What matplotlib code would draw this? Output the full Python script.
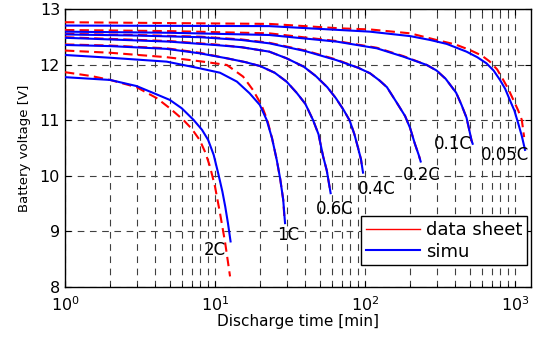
import matplotlib
matplotlib.use('Agg')
import matplotlib.pyplot as plt
from matplotlib.lines import Line2D
from matplotlib.ticker import LogLocator, NullFormatter

# discharge curves: time [min], voltage [V]
# 2C
t_2c_sim = [1, 2, 3, 4, 5, 6, 7.2, 8.2, 9, 9.8, 10.5, 11.2, 11.7, 12.2, 12.7]
v_2c_sim = [11.78, 11.73, 11.62, 11.48, 11.37, 11.22, 11.01, 10.83, 10.65, 10.38, 10.05, 9.72, 9.45, 9.15, 8.82]
t_2c_ds = [1, 1.5, 2, 3, 4.1, 5, 6.15, 7, 7.9, 8.6, 9.26, 10, 10.8, 11.7, 12.6]
v_2c_ds = [11.87, 11.80, 11.73, 11.60, 11.40, 11.22, 11.01, 10.85, 10.65, 10.43, 10.17, 9.81, 9.33, 8.79, 8.19]
# 1C
t_1c_sim = [1, 2, 4.76, 7.9, 10.8, 14, 17, 19.9, 22.1, 24, 25.8, 27.2, 28.5, 29.3]
v_1c_sim = [12.18, 12.13, 12.06, 11.94, 11.86, 11.70, 11.49, 11.28, 11.01, 10.68, 10.29, 9.95, 9.57, 9.15]
t_1c_ds = [1, 2, 4.76, 8.3, 12, 15.4, 17.9, 20.4, 22.3, 24, 25.8, 27.2, 28.5, 29.1]
v_1c_ds = [12.26, 12.22, 12.14, 12.06, 12.00, 11.79, 11.55, 11.28, 11.01, 10.68, 10.29, 9.95, 9.57, 9.20]
# 0.6C
t_06c_sim = [1, 2, 4.76, 7.9, 12, 16, 20, 25, 30, 35, 40, 45, 49, 52.6, 55.6, 59]
v_06c_sim = [12.36, 12.34, 12.29, 12.21, 12.12, 12.05, 11.98, 11.86, 11.70, 11.50, 11.30, 11.01, 10.75, 10.35, 10.10, 9.69]
t_06c_ds = [1, 2, 4.76, 7.9, 12, 16, 20, 25, 30, 35, 40, 45, 49, 52.6, 55.6, 58.5]
v_06c_ds = [12.37, 12.35, 12.30, 12.22, 12.12, 12.05, 11.98, 11.86, 11.70, 11.50, 11.30, 11.01, 10.75, 10.35, 10.10, 9.75]
# 0.4C
t_04c_sim = [1, 2, 5, 10, 15, 23, 30, 39, 47, 56, 64, 72, 79, 85, 90, 94, 97]
v_04c_sim = [12.49, 12.46, 12.42, 12.36, 12.32, 12.24, 12.12, 11.97, 11.80, 11.60, 11.40, 11.19, 11.00, 10.75, 10.50, 10.30, 10.06]
t_04c_ds = [1, 2, 5, 10, 15, 23, 30, 39, 47, 56, 64, 72, 79, 85, 90, 94, 96]
v_04c_ds = [12.50, 12.47, 12.43, 12.37, 12.32, 12.24, 12.12, 11.97, 11.80, 11.60, 11.40, 11.19, 11.00, 10.75, 10.50, 10.30, 10.12]
# 0.2C
t_02c_sim = [1, 3, 8, 15, 23, 40, 64, 90, 108, 125, 140, 162, 185, 200, 215, 228, 235]
v_02c_sim = [12.55, 12.53, 12.50, 12.45, 12.39, 12.25, 12.09, 11.95, 11.85, 11.72, 11.60, 11.33, 11.08, 10.86, 10.58, 10.38, 10.26]
t_02c_ds = [1, 3, 8, 15, 23, 40, 64, 90, 108, 125, 140, 162, 185, 200, 215, 228, 233]
v_02c_ds = [12.56, 12.54, 12.51, 12.46, 12.40, 12.26, 12.10, 11.95, 11.85, 11.72, 11.60, 11.33, 11.08, 10.86, 10.58, 10.38, 10.30]
# 0.1C
t_01c_sim = [1, 5, 23, 65, 120, 180, 258, 300, 345, 405, 440, 475, 500, 513, 522]
v_01c_sim = [12.60, 12.58, 12.54, 12.42, 12.30, 12.15, 12.00, 11.90, 11.75, 11.50, 11.28, 11.05, 10.78, 10.64, 10.58]
t_01c_ds = [1, 5, 23, 65, 120, 180, 258, 300, 345, 405, 440, 475, 500, 513, 518]
v_01c_ds = [12.63, 12.61, 12.57, 12.43, 12.31, 12.16, 12.00, 11.90, 11.75, 11.50, 11.28, 11.05, 10.78, 10.64, 10.60]
# 0.05C
t_005c_sim = [1, 23, 108, 200, 272, 350, 475, 560, 645, 720, 794, 860, 923, 990, 1050, 1110, 1166]
v_005c_sim = [12.71, 12.70, 12.60, 12.52, 12.45, 12.38, 12.24, 12.14, 12.03, 11.90, 11.73, 11.57, 11.37, 11.18, 10.95, 10.72, 10.47]
t_005c_ds = [1, 23, 68, 108, 200, 300, 400, 500, 600, 680, 760, 835, 905, 975, 1050, 1110, 1150]
v_005c_ds = [12.77, 12.74, 12.66, 12.64, 12.57, 12.45, 12.37, 12.27, 12.17, 12.06, 11.92, 11.73, 11.56, 11.37, 11.18, 11.01, 10.70]

rate_labels = ['2C', '1C', '0.6C', '0.4C', '0.2C', '0.1C', '0.05C']
label_t = [10, 30.7, 63, 120, 240, 386, 858]
label_v = [8.67, 8.94, 9.41, 9.77, 10.02, 10.58, 10.38]

ds_curves = [(t_2c_ds, v_2c_ds), (t_1c_ds, v_1c_ds), (t_06c_ds, v_06c_ds), (t_04c_ds, v_04c_ds),
             (t_02c_ds, v_02c_ds), (t_01c_ds, v_01c_ds), (t_005c_ds, v_005c_ds)]
sim_curves = [(t_2c_sim, v_2c_sim), (t_1c_sim, v_1c_sim), (t_06c_sim, v_06c_sim), (t_04c_sim, v_04c_sim),
              (t_02c_sim, v_02c_sim), (t_01c_sim, v_01c_sim), (t_005c_sim, v_005c_sim)]

plt.rcParams['font.family'] = ['DejaVu Sans']
plt.rcParams['mathtext.default'] = 'regular'

fig = plt.figure(figsize=(5.37, 3.38), dpi=100)
ax = fig.add_axes([0.121, 0.151, 0.868, 0.821])

for t, v in ds_curves:
    ax.plot(t, v, color='#ff0000', lw=1.5, dashes=(4.5, 2.5), zorder=3)
for t, v in sim_curves:
    ax.plot(t, v, color='#0000ff', lw=1.5, zorder=4)

for s, x, y in zip(rate_labels, label_t, label_v):
    ax.text(x, y, s, fontsize=12, ha='center', va='center', zorder=5)

ax.set_xscale('log')
ax.set_xlim(1, 1280)
ax.set_ylim(8, 13)
ax.set_yticks([8, 9, 10, 11, 12, 13])
ax.xaxis.set_major_locator(LogLocator(base=10))
ax.xaxis.set_minor_locator(LogLocator(base=10, subs=range(2, 10)))
ax.xaxis.set_minor_formatter(NullFormatter())

ax.grid(True, which='major', color='0.25', lw=0.8, dashes=(6, 5))
ax.grid(True, which='minor', axis='x', color='0.25', lw=0.8, dashes=(6, 5))
ax.set_axisbelow(True)

ax.tick_params(which='both', direction='in', top=True, right=True, labelsize=11.5)
ax.tick_params(axis='x', which='major', pad=6)
ax.tick_params(which='major', length=4)
ax.tick_params(which='minor', length=2)
for sp in ax.spines.values():
    sp.set_linewidth(1.0)

ax.set_xlabel('Discharge time [min]', fontsize=11, labelpad=0)
ax.set_ylabel('Battery voltage [V]', fontsize=9.5, labelpad=6)

handles = [Line2D([], [], color='#ff0000', lw=1.0), Line2D([], [], color='#0000ff', lw=1.5)]
leg = ax.legend(handles, ['data sheet', 'simu'], loc='lower right', bbox_to_anchor=(0.991, 0.079),
                borderaxespad=0, fancybox=False, framealpha=1, edgecolor='k', fontsize=13,
                handlelength=3.0, handletextpad=0.35, borderpad=0.25, labelspacing=0.2)
leg.get_frame().set_linewidth(1.0)
leg.set_zorder(6)

fig.savefig('out.png', dpi=100)
